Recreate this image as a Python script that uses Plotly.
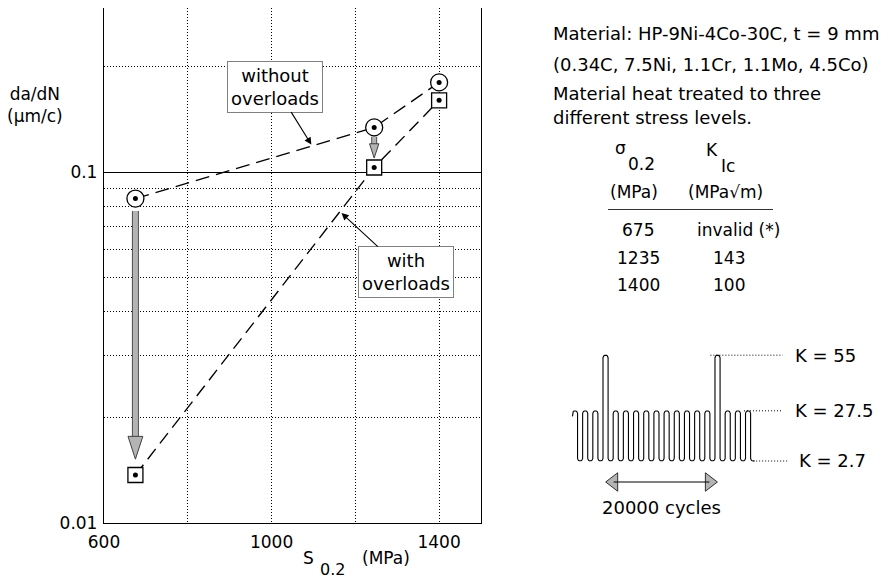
import numpy as np
import plotly.graph_objects as go

# ---------------- main chart data ----------------
s02 = [675, 1245, 1400]                    # S0.2 as plotted (MPa)
dadn_without = [0.084, 0.134, 0.180]       # da/dN without overloads (µm/c)
dadn_with = [0.0137, 0.103, 0.160]         # da/dN with overloads (µm/c)

# grey arrows (drop from "without" to "with")
arrow_x = [675, 1245]
arrow_from = [0.0774, 0.126]
arrow_shaft_to = [0.0176, 0.1165]
arrow_tip = [0.0152, 0.1096]

x_tickvals = [600, 800, 1000, 1200, 1400]
x_ticktext = ["600", "", "1000", "", "1400"]
y_tickvals = [0.01, 0.1]
y_ticktext = ["0.01", "0.1"]
y_minorvals = [0.02, 0.03, 0.04, 0.05, 0.06, 0.07, 0.08, 0.09, 0.2]

label_texts = ["without<br>overloads", "with<br>overloads"]
label_tip_x = [1095, 1167]
label_tip_y = [0.1197, 0.0764]

# ---------------- table ----------------
table_sigma = ["675", "1235", "1400"]
table_kic = ["invalid (*)", "143", "100"]

# ---------------- load spectrum schematic ----------------
k_levels = [55, 27.5, 2.7]
k_labels = ["K = 55", "K = 27.5", "K = 2.7"]
cycle_peaks = [27.5, 27.5, 27.5, 55, 27.5, 27.5, 27.5, 27.5, 27.5,
               27.5, 27.5, 27.5, 27.5, 27.5, 55, 27.5, 27.5, 27.5]
k_min = 2.7
overload_cycles = [3, 14]
cycles_label = "20000 cycles"

# ---------------- geometry helpers (page pixels; body has an 8px margin) ----------------
OFF = 8
W, H = 891 - OFF, 579 - OFF
ML, MR, MT, MB = 104 - OFF, 0, 0, 56
PW = W - ML - MR
PH = H - MT - MB
PLOT_BOTTOM = H - MB + OFF      # page y of plot bottom (523)


def px(xp):
    return (xp - OFF - ML) / PW


def py(yp):
    return (PLOT_BOTTOM - yp) / PH


DECADE = 351.0
y_top = -1 + (172 - (MT + OFF)) / DECADE

X2_PX0, X2_SCALE = 575.0, 10.18
K_SCALE = 2.023
x2_range = [(560 - X2_PX0) / X2_SCALE, (891 - X2_PX0) / X2_SCALE]
Y2_RANGE = [-25, 60]


def k2px(k):
    return 409 - K_SCALE * (k - 28.4)


def px2k(p):
    return 28.4 - (p - 409) / K_SCALE


y2_domain = [max(0.0, py(k2px(Y2_RANGE[0]))), min(1.0, py(k2px(Y2_RANGE[1])))]

FONT = "DejaVu Sans"
BLACK = "black"
DOT = "1px,2px"

fig = go.Figure()

# dashed connecting lines
fig.add_trace(go.Scatter(x=s02, y=dadn_without, mode="lines",
                         line=dict(color=BLACK, width=1.35, dash="14px,7px"),
                         hoverinfo="skip", showlegend=False))
fig.add_trace(go.Scatter(x=s02, y=dadn_with, mode="lines",
                         line=dict(color=BLACK, width=1.35, dash="13px,7px"),
                         hoverinfo="skip", showlegend=False))

# grey arrows
shaft_w = [(7, 5), (6, 4)]
for i in range(len(arrow_x)):
    for w, c in [(shaft_w[i][0], "#505050"), (shaft_w[i][1], "#b4b4b4")]:
        fig.add_trace(go.Scatter(x=[arrow_x[i], arrow_x[i]],
                                 y=[arrow_from[i], arrow_shaft_to[i]],
                                 mode="lines", line=dict(color=c, width=w),
                                 hoverinfo="skip", showlegend=False))
fig.add_trace(go.Scatter(x=arrow_x[:1], y=arrow_tip[:1], mode="markers",
                         marker=dict(symbol="arrow", angle=180, size=24,
                                     color="#b4b4b4",
                                     line=dict(color="#404040", width=1)),
                         hoverinfo="skip", showlegend=False))
fig.add_trace(go.Scatter(x=arrow_x[1:], y=arrow_tip[1:], mode="markers",
                         marker=dict(symbol="arrow", angle=180, size=15,
                                     color="#b4b4b4",
                                     line=dict(color="#404040", width=1)),
                         hoverinfo="skip", showlegend=False))

# markers
fig.add_trace(go.Scatter(x=s02, y=dadn_without, mode="markers",
                         marker=dict(symbol="circle", size=17, color="white",
                                     line=dict(color=BLACK, width=1.3)),
                         hoverinfo="skip", showlegend=False))
fig.add_trace(go.Scatter(x=s02, y=dadn_with, mode="markers",
                         marker=dict(symbol="square", size=15, color="white",
                                     line=dict(color=BLACK, width=1.3)),
                         hoverinfo="skip", showlegend=False))
fig.add_trace(go.Scatter(x=s02 + s02, y=dadn_without + dadn_with, mode="markers",
                         marker=dict(symbol="circle", size=5, color=BLACK),
                         hoverinfo="skip", showlegend=False))

# ---------------- load spectrum waveform (serpentine with round caps) ----------------
rx = 0.25                              # half spacing of the strokes (cycle units)
ry = rx * X2_SCALE / K_SCALE           # same radius in K units -> round caps
cap = np.linspace(np.pi, 0, 9)
n = len(cycle_peaks)
wx, wy = [-rx], [cycle_peaks[0] - ry - 1.5]
for i, p in enumerate(cycle_peaks):
    wx += list(i + rx * np.cos(cap))
    wy += list(p - ry + ry * np.sin(cap))
    if i < n - 1:
        wx += list(i + 0.5 + rx * np.cos(cap))
        wy += list(k_min + ry - ry * np.sin(cap))
half = np.linspace(np.pi, np.pi / 2, 5)
wx += list(n - 1 + 0.5 + rx * np.cos(half)) + [n - 1 + 0.65]
wy += list(k_min + ry - ry * np.sin(half)) + [k_min]
fig.add_trace(go.Scatter(x=wx, y=wy, xaxis="x2", yaxis="y2", mode="lines",
                         line=dict(color=BLACK, width=1.1),
                         hoverinfo="skip", showlegend=False))

# double-headed arrow between overloads
arr_y = px2k(482)
fig.add_shape(type="line", xref="x2", yref="y2",
              x0=overload_cycles[0] + 0.8, x1=overload_cycles[1] - 0.8,
              y0=arr_y, y1=arr_y, line=dict(color=BLACK, width=1.2))
fig.add_trace(go.Scatter(x=[overload_cycles[0] + 0.8, overload_cycles[1] - 0.8],
                         y=[arr_y, arr_y], xaxis="x2", yaxis="y2", mode="markers",
                         marker=dict(symbol=["triangle-left", "triangle-right"], size=16,
                                     color="#b4b4b4", line=dict(color="#303030", width=1)),
                         hoverinfo="skip", showlegend=False))

k_line_x0 = [13.3, 16.6, 17.5]
k_line_x1 = [20.4, 20.4, 20.9]
k_label_x = [21.4, 21.4, 21.8]
for k, lab, a, b, lx in zip(k_levels, k_labels, k_line_x0, k_line_x1, k_label_x):
    fig.add_shape(type="line", xref="x2", yref="y2", x0=a, x1=b, y0=k, y1=k,
                  line=dict(color=BLACK, width=1, dash=DOT))
    fig.add_annotation(x=lx, y=k, xref="x2", yref="y2", text=lab, showarrow=False,
                       xanchor="left", yanchor="middle",
                       font=dict(family=FONT, size=18, color=BLACK))
fig.add_annotation(x=sum(overload_cycles) / 2, y=px2k(507),
                   xref="x2", yref="y2", text=cycles_label, showarrow=False,
                   xanchor="center", yanchor="middle",
                   font=dict(family=FONT, size=18, color=BLACK))

# ---------------- labels with arrows ----------------
label_offsets = [(-36, -58), (64, 59)]
for t, tx, ty, (oax, oay) in zip(label_texts, label_tip_x, label_tip_y, label_offsets):
    fig.add_annotation(x=tx, y=np.log10(ty), xref="x", yref="y", text=t,
                       showarrow=True, arrowhead=2, arrowsize=1.3, arrowwidth=1.1,
                       arrowcolor=BLACK, ax=oax, ay=oay,
                       xanchor="center", yanchor="middle",
                       bordercolor="#808080", borderwidth=1, borderpad=3,
                       bgcolor="white", font=dict(family=FONT, size=18, color=BLACK))


def label(txt, xx, yy, size=17, xanchor="center"):
    fig.add_annotation(x=px(xx), y=py(yy), xref="paper", yref="paper", text=txt,
                       showarrow=False, xanchor=xanchor, yanchor="middle",
                       font=dict(family=FONT, size=size, color=BLACK))


# axis titles
label("da/dN<br>(µm/c)", 35, 105, 17)
label("S", 308, 558, 17)
label("0.2", 332, 569, 16)
label("(MPa)", 386, 558, 17)

# ---------------- right-hand text ----------------
info_lines = ["Material: HP-9Ni-4Co-30C, t = 9 mm",
              "(0.34C, 7.5Ni, 1.1Cr, 1.1Mo, 4.5Co)",
              "Material heat treated to three",
              "different stress levels."]
for txt, yy in zip(info_lines, [34, 64, 93, 117]):
    label(txt, 551, yy, 18, "left")

for txt, xx, yy in [("σ", 620, 148), ("0.2", 641, 164), ("K", 712, 150),
                    ("Ic", 728, 166), ("(MPa)", 634, 192), ("(MPa√m)", 725, 192)]:
    label(txt, xx, yy, 17)
fig.add_shape(type="line", xref="paper", yref="paper", x0=px(608), x1=px(773),
              y0=py(209.5), y1=py(209.5), line=dict(color="#333333", width=1.2))
row_y = [230, 258, 285]
col2_x = [738, 729, 729]
for s, k, yy, cx in zip(table_sigma, table_kic, row_y, col2_x):
    label(s, 638, yy, 17)
    label(k, cx, yy, 17)

# ---------------- layout ----------------
fig.update_layout(
    width=W, height=H,
    margin=dict(l=ML, r=MR, t=MT, b=MB, pad=0),
    paper_bgcolor="white", plot_bgcolor="white",
    showlegend=False,
    font=dict(family=FONT, size=17, color=BLACK),
    xaxis=dict(domain=[0, px(481)], range=[600, 1500],
               tickmode="array", tickvals=x_tickvals, ticktext=x_ticktext,
               showgrid=True, gridcolor=BLACK, gridwidth=1, griddash=DOT,
               showline=True, linecolor=BLACK, linewidth=1.3, mirror=True,
               zeroline=False, ticks="", ticklabelstandoff=3,
               tickfont=dict(family=FONT, size=17, color=BLACK)),
    yaxis=dict(type="log", range=[-2, y_top],
               tickmode="array", tickvals=y_tickvals, ticktext=y_ticktext,
               showgrid=True, gridcolor=BLACK, gridwidth=1,
               minor=dict(tickmode="array", tickvals=y_minorvals, showgrid=True,
                          gridcolor=BLACK, gridwidth=1, griddash=DOT, ticks=""),
               showline=True, linecolor=BLACK, linewidth=1.3, mirror=True,
               zeroline=False, ticks="", ticklabelstandoff=2,
               tickfont=dict(family=FONT, size=17, color=BLACK)),
    xaxis2=dict(domain=[px(560), 1.0], range=x2_range, anchor="y2", visible=False,
                fixedrange=True),
    yaxis2=dict(domain=y2_domain, range=Y2_RANGE, anchor="x2", visible=False,
                fixedrange=True),
)

fig.write_html("out.html")
